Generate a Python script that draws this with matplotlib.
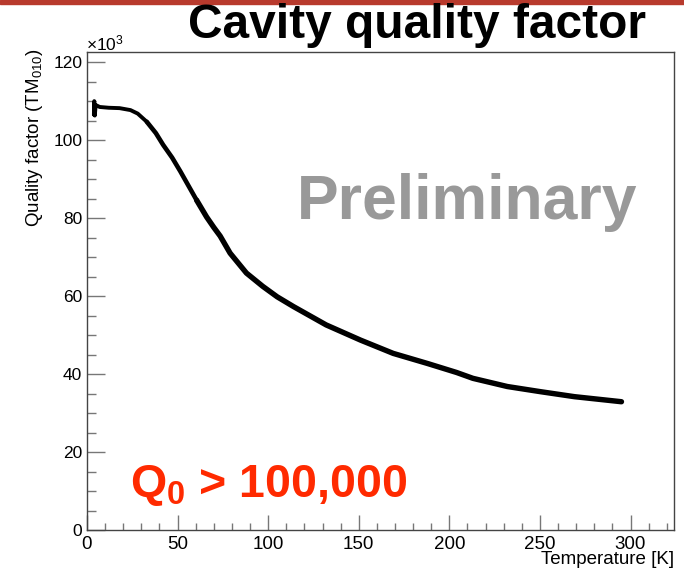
import matplotlib
matplotlib.use('Agg')
import matplotlib.pyplot as plt
from matplotlib.patches import Rectangle
from matplotlib.ticker import MultipleLocator

plt.rcParams['font.family'] = ['Liberation Sans', 'DejaVu Sans']
plt.rcParams['mathtext.fontset'] = 'custom'
plt.rcParams['mathtext.rm'] = 'Liberation Sans'
plt.rcParams['mathtext.it'] = 'Liberation Sans:italic'
plt.rcParams['mathtext.bf'] = 'Liberation Sans:bold'

# temperature sweep [K] and measured Q of the TM010 mode [x10^3]
temp = [3.8, 4.0, 4.3, 4.8, 7, 12, 18, 24, 28, 33, 38, 42, 47, 51.5, 56,
        60.5, 66, 70, 73.5, 79, 88, 97, 105, 114, 132, 151, 169, 188, 204,
        213, 232, 250, 269, 287, 295]
q_factor = [106.5, 110.0, 106.3, 109.0, 108.5, 108.3, 108.2, 107.7, 106.8,
            104.7, 101.8, 98.8, 95.5, 92.0, 88.3, 84.6, 80.3, 77.6, 75.4,
            71.0, 65.9, 62.5, 59.8, 57.3, 52.6, 48.7, 45.3, 42.7, 40.4, 38.9,
            36.8, 35.5, 34.2, 33.3, 32.9]

W, H = 684, 574
fig = plt.figure(figsize=(W / 100, H / 100), dpi=100)
fig.patches.append(Rectangle((0, 1 - 4 / H), 1, 4 / H, transform=fig.transFigure,
                             color='#b83a2d', zorder=0))

ax = fig.add_axes([87 / W, 1 - 530 / H, (674 - 87) / W, (530 - 52) / H])
# low-T part of the sweep is less noisy -> thinner trace
ax.plot(temp[:10], q_factor[:10], color='black', lw=2.8, solid_joinstyle='round',
        solid_capstyle='round')
ax.plot(temp[9:16], q_factor[9:16], color='black', lw=3.3, solid_joinstyle='round',
        solid_capstyle='round')
ax.plot(temp[15:], q_factor[15:], color='black', lw=3.9, solid_joinstyle='round',
        solid_capstyle='round')

ax.set_xlim(0, 324)
ax.set_ylim(0, 122.6)
ax.xaxis.set_major_locator(MultipleLocator(50))
ax.xaxis.set_minor_locator(MultipleLocator(10))
ax.yaxis.set_major_locator(MultipleLocator(20))
ax.yaxis.set_minor_locator(MultipleLocator(5))

for s in ax.spines.values():
    s.set_color('#444444')
    s.set_linewidth(1.0)
ax.tick_params(which='both', direction='in', top=False, right=False,
               color='#777777', width=1.0)
ax.tick_params(axis='x', which='major', length=10.8, labelsize=13.5, pad=4.3)
ax.tick_params(axis='x', which='minor', length=5.0)
ax.tick_params(axis='y', which='major', length=13, labelsize=12.5, pad=3.5)
ax.tick_params(axis='y', which='minor', length=6.5)

fig.text(86 / W, 1 - 50 / H, r'$\times$10$^{3}$', fontsize=12.5, ha='left', va='baseline')
fig.text(674 / W, 1 - 560 / H, 'Temperature [K]', fontsize=13.5, ha='right', va='center')
fig.text(35 / W, 1 - 48 / H, r'Quality factor (TM$_{010}$)', fontsize=13.5,
         rotation=90, ha='center', va='top')

fig.text(646 / W, 1 - 38 / H, 'Cavity quality factor', fontsize=34.5,
         fontweight='bold', ha='right', va='baseline')
fig.text(637 / W, 1 - 219 / H, 'Preliminary', fontsize=45, fontweight='bold',
         color='#999999', ha='right', va='baseline')
fig.text(130 / W, 1 - 497 / H, r'$\mathbf{Q_0}$ > 100,000', fontsize=33.5,
         fontweight='bold', color='#ff2a00', ha='left', va='baseline')

fig.savefig('out.png', dpi=100)
